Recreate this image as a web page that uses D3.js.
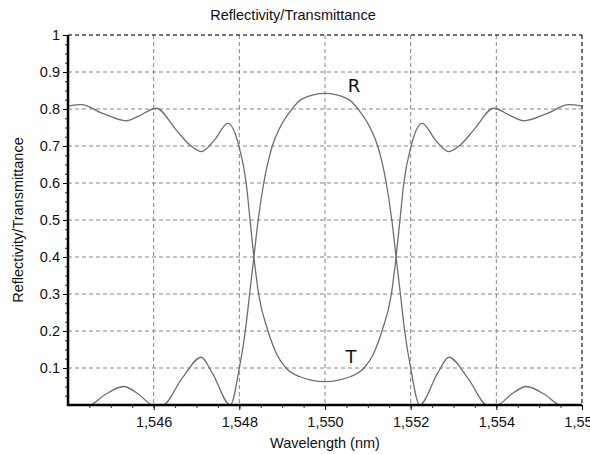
<!DOCTYPE html>
<html>
<head>
<meta charset="utf-8">
<script src="https://cdn.jsdelivr.net/npm/d3@7"></script>
<style>
  body { margin: 0; background: #fff; }
  text { font-family: "Liberation Sans", Arial, sans-serif; fill: #111; }
</style>
</head>
<body>
<div id="chart"></div>
<script>
// data (wavelength in the chart's own units)
const rWave = [1.5440, 1.5445, 1.54485, 1.5453, 1.54567, 1.54598, 1.54621, 1.54665, 1.54711, 1.54737, 1.54779,
  1.54800, 1.54814, 1.54824, 1.54834, 1.54844, 1.54857, 1.54877, 1.54894, 1.54921, 1.54945, 1.5500,
  1.55055, 1.55079, 1.55106, 1.55123, 1.55143, 1.55156, 1.55166, 1.55176, 1.55186, 1.55200,
  1.55221, 1.55263, 1.55289, 1.55335, 1.55379, 1.55402, 1.55433, 1.5547, 1.55515, 1.5555, 1.5560];
const rVal = [0, 0, 0.027, 0.05, 0.027, 0, 0, 0.07, 0.129, 0.086, 0,
  0.10, 0.20, 0.30, 0.40, 0.50, 0.60, 0.70, 0.748, 0.797, 0.826, 0.842,
  0.826, 0.797, 0.748, 0.70, 0.60, 0.50, 0.40, 0.30, 0.20, 0.10,
  0, 0.086, 0.129, 0.07, 0, 0, 0.027, 0.05, 0.027, 0, 0];

const tWave = [1.5440, 1.54431, 1.54481, 1.54536, 1.54569, 1.54606, 1.54653, 1.54684, 1.54711, 1.54742, 1.54773,
  1.54799, 1.54816, 1.54825, 1.54834, 1.54845, 1.54867, 1.54887, 1.54909, 1.54940, 1.5500,
  1.55060, 1.55091, 1.55113, 1.55133, 1.55155, 1.55166, 1.55175, 1.55184, 1.55201,
  1.55227, 1.55258, 1.55289, 1.55316, 1.55347, 1.55394, 1.55431, 1.55464, 1.55519, 1.55569, 1.5560];
const tVal = [0.808, 0.812, 0.788, 0.768, 0.783, 0.802, 0.743, 0.703, 0.685, 0.716, 0.761,
  0.70, 0.60, 0.50, 0.40, 0.30, 0.20, 0.138, 0.10, 0.077, 0.063,
  0.077, 0.10, 0.138, 0.20, 0.30, 0.40, 0.50, 0.60, 0.70,
  0.761, 0.716, 0.685, 0.703, 0.743, 0.802, 0.783, 0.768, 0.788, 0.812, 0.808];

const xMajor = [1.546, 1.548, 1.550, 1.552, 1.554, 1.556];
const yMajor = [0.1, 0.2, 0.3, 0.4, 0.5, 0.6, 0.7, 0.8, 0.9, 1];

const titleText = "Reflectivity/Transmittance";
const xTitle = "Wavelength (nm)";
const yTitle = "Reflectivity/Transmittance";

let margin = {top: 35, right: 8, bottom: 49, left: 68};
let width = 590 - margin.left - margin.right;
let height = 454 - margin.top - margin.bottom;

let svg = d3.select("#chart")
  .append("svg")
    .attr("width", 590)
    .attr("height", 454)
    .style("overflow", "hidden");

let g = svg.append("g")
  .attr("transform", "translate(" + margin.left + "," + margin.top + ")");

let xScale = d3.scaleLinear().domain([1.544, 1.556]).range([0, width]);
let yScale = d3.scaleLinear().domain([0, 1]).range([height, 0]);

drawGrid();
drawCurve(rWave, rVal);
drawCurve(tWave, tVal);
drawAxes();
drawTexts();

function drawGrid(){
  g.selectAll(".vgrid")
    .data(xMajor)
    .enter()
    .append("line")
      .attr("x1", d => xScale(d))
      .attr("x2", d => xScale(d))
      .attr("y1", 0)
      .attr("y2", height)
      .attr("stroke", d => d === 1.556 ? "#444" : "#858585")
      .attr("stroke-width", d => d === 1.556 ? 1.5 : 1)
      .attr("stroke-dasharray", "4,3");

  g.selectAll(".hgrid")
    .data(yMajor)
    .enter()
    .append("line")
      .attr("x1", 0)
      .attr("x2", width)
      .attr("y1", d => yScale(d))
      .attr("y2", d => yScale(d))
      .attr("stroke", d => d === 1 ? "#444" : "#858585")
      .attr("stroke-width", d => d === 1 ? 1.5 : 1)
      .attr("stroke-dasharray", "4,3");
}

function drawCurve(wave, vals){
  let pts = wave.map((w, i) => [w, vals[i]]);
  let line = d3.line()
    .x(d => xScale(d[0]))
    .y(d => yScale(d[1]))
    .curve(d3.curveMonotoneX);

  g.append("path")
    .datum(pts)
    .attr("d", line)
    .attr("fill", "none")
    .attr("stroke", "#6e6e6e")
    .attr("stroke-width", 1.3);
}

function drawAxes(){
  // minor ticks
  let xMinor = d3.range(1.5445, 1.5560, 0.0005);
  g.append("g")
    .attr("transform", "translate(0," + height + ")")
    .call(d3.axisBottom(xScale).tickValues(xMinor).tickSize(3).tickFormat(""))
    .call(a => a.select(".domain").remove())
    .selectAll("line").attr("stroke", "#333");

  let yMinor = d3.range(0.025, 1, 0.025);
  g.append("g")
    .call(d3.axisLeft(yScale).tickValues(yMinor).tickSize(3).tickFormat(""))
    .call(a => a.select(".domain").remove())
    .selectAll("line").attr("stroke", "#333");

  let xAxis = g.append("g")
    .attr("transform", "translate(0," + height + ")")
    .call(d3.axisBottom(xScale)
      .tickValues(xMajor)
      .tickSize(5)
      .tickPadding(7)
      .tickFormat(d => d3.format(".3f")(d).replace(".", ",")));
  xAxis.select(".domain").remove();
  xAxis.selectAll("text").style("font-size", "14.5px").attr("fill", "#111");

  let yAxis = g.append("g")
    .call(d3.axisLeft(yScale)
      .tickValues(yMajor)
      .tickSize(5)
      .tickPadding(3)
      .tickFormat(d => d === 1 ? "1" : d3.format(".1f")(d)));
  yAxis.select(".domain").remove();
  yAxis.selectAll("text").style("font-size", "14.5px").attr("fill", "#111");

  // thick left / bottom axis lines
  g.append("line")
    .attr("x1", 0).attr("x2", 0)
    .attr("y1", 0).attr("y2", height + 1)
    .attr("stroke", "#000").attr("stroke-width", 2.5);
  g.append("line")
    .attr("x1", -1).attr("x2", width)
    .attr("y1", height).attr("y2", height)
    .attr("stroke", "#000").attr("stroke-width", 2.5);
}

function drawTexts(){
  svg.append("text")
    .attr("x", 293)
    .attr("y", 20)
    .attr("text-anchor", "middle")
    .style("font-size", "14.5px")
    .text(titleText);

  svg.append("text")
    .attr("x", margin.left + width / 2)
    .attr("y", 448)
    .attr("text-anchor", "middle")
    .style("font-size", "14.5px")
    .text(xTitle);

  svg.append("text")
    .attr("transform", "translate(23," + (margin.top + height / 2) + ") rotate(-90)")
    .attr("text-anchor", "middle")
    .style("font-size", "14.5px")
    .text(yTitle);

  // curve labels
  g.append("text")
    .attr("x", xScale(1.55053))
    .attr("y", yScale(0.84) - 2)
    .style("font-family", "DejaVu Sans")
    .style("font-size", "18px")
    .text("R");

  g.append("text")
    .attr("x", xScale(1.55048))
    .attr("y", yScale(0.113))
    .style("font-family", "DejaVu Sans")
    .style("font-size", "18px")
    .text("T");
}
</script>
</body>
</html>
